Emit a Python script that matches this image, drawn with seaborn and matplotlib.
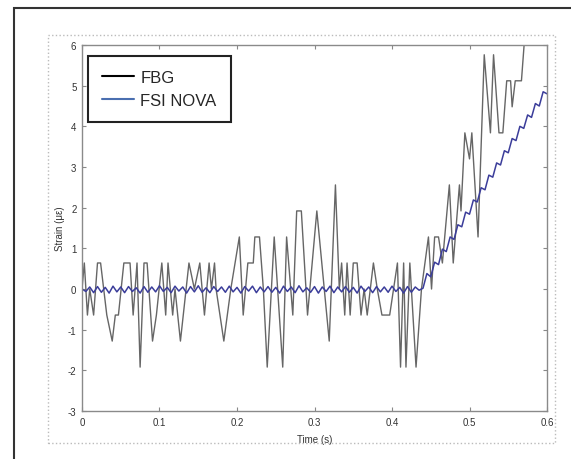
import numpy as np
import matplotlib
matplotlib.use("Agg")
import matplotlib.pyplot as plt
import seaborn as sns
from matplotlib.lines import Line2D
from matplotlib.patches import Rectangle

# FBG strain: vertices (time in s, strain in micro-strain)
fbg_t = [0.000, 0.003, 0.007, 0.010, 0.015, 0.020, 0.024, 0.032, 0.039, 0.043,
         0.047, 0.054, 0.062, 0.066, 0.071, 0.075, 0.080, 0.084, 0.091, 0.096,
         0.103, 0.108, 0.111, 0.117, 0.120, 0.127, 0.138, 0.145, 0.152, 0.158,
         0.164, 0.167, 0.171, 0.173, 0.183, 0.192, 0.203, 0.208, 0.214, 0.221,
         0.223, 0.229, 0.234, 0.239, 0.248, 0.259, 0.264, 0.272, 0.277, 0.283,
         0.291, 0.303, 0.319, 0.327, 0.332, 0.335, 0.339, 0.342, 0.346, 0.350,
         0.355, 0.360, 0.364, 0.368, 0.376, 0.381, 0.387, 0.397, 0.407, 0.411,
         0.415, 0.418, 0.423, 0.431, 0.438, 0.447, 0.451, 0.455, 0.460, 0.465,
         0.474, 0.479, 0.487, 0.489, 0.494, 0.500, 0.503, 0.511, 0.519, 0.527,
         0.531, 0.538, 0.543, 0.548, 0.553, 0.555, 0.559, 0.567, 0.572, 0.600]
fbg_v = [0.00, 0.64, -0.64, 0.00, -0.64, 0.64, 0.64, -0.64, -1.28, -0.64,
         -0.64, 0.64, 0.64, -0.64, 0.64, -1.92, 0.64, 0.64, -1.28, -0.64,
         0.64, -0.64, 0.64, -0.64, 0.00, -1.28, 0.64, 0.00, 0.64, -0.64,
         0.64, 0.00, 0.64, 0.00, -1.28, 0.00, 1.28, -0.64, 0.64, 0.64,
         1.28, 1.28, 0.00, -1.92, 1.28, -1.92, 1.28, -0.64, 1.92, 1.92,
         -0.64, 1.92, -1.28, 2.56, 0.00, 0.64, -0.64, 0.64, -0.64, 0.64,
         0.64, -0.64, 0.00, -0.64, 0.64, 0.00, -0.64, -0.64, 0.64, -1.92,
         0.64, -1.92, 0.64, -1.92, 0.00, 1.28, 0.00, 1.28, 1.28, 0.64,
         2.56, 0.64, 2.56, 1.92, 3.84, 3.20, 3.84, 1.28, 5.76, 3.84,
         5.76, 3.84, 3.84, 5.12, 5.12, 4.48, 5.12, 5.12, 6.40, 7.04]

# FSI NOVA strain, sampled every 5 ms from 0 to 0.6 s
nova_t = np.round(np.arange(121) * 0.005, 3)
nova_v = [0.00, -0.06, 0.05, -0.09, 0.06, -0.08, 0.04, -0.10, 0.07, -0.07, 0.05,
          -0.09, 0.06, -0.06, 0.03, -0.10, 0.06, -0.08, 0.05, -0.07, 0.08, -0.06,
          0.04, -0.09, 0.07, -0.05, 0.05, -0.10, 0.06, -0.07, 0.08, -0.08, 0.03,
          -0.09, 0.06, -0.06, 0.05, -0.08, 0.07, -0.07, 0.04, -0.10, 0.06, -0.05,
          0.07, -0.09, 0.05, -0.07, 0.06, -0.08, 0.04, -0.10, 0.07, -0.06, 0.05,
          -0.09, 0.08, -0.07, 0.03, -0.08, 0.06, -0.10, 0.05, -0.06, 0.07, -0.09,
          0.05, -0.07, 0.06, -0.08, 0.04, -0.10, 0.07, -0.06, 0.05, -0.09, 0.06,
          -0.07, 0.05, -0.08, 0.07, -0.06, 0.04, -0.10, 0.06, -0.08, 0.05, -0.03,
          0.02, 0.38, 0.30, 0.66, 0.60, 0.98, 0.92, 1.28, 1.22, 1.58, 1.53,
          1.89, 1.84, 2.19, 2.14, 2.49, 2.44, 2.80, 2.75, 3.10, 3.05, 3.40,
          3.35, 3.70, 3.65, 4.00, 3.95, 4.28, 4.22, 4.56, 4.50, 4.85, 4.80]

x_ticks = [0, 0.1, 0.2, 0.3, 0.4, 0.5, 0.6]
y_ticks = [-3, -2, -1, 0, 1, 2, 3, 4, 5, 6]

sns.set_style("white")
plt.rcParams['font.family'] = ['Liberation Sans', 'DejaVu Sans']
plt.rcParams['axes.unicode_minus'] = False

fig = plt.figure(figsize=(5.71, 4.6), dpi=100)
ax = fig.add_axes([0.1436, 0.1043, 0.8144, 0.7957])

sns.lineplot(x=fbg_t, y=fbg_v, color='#666666', lw=1.0, estimator=None, ax=ax)
sns.lineplot(x=nova_t, y=nova_v, color='#3b3d9a', lw=1.1, estimator=None, ax=ax)

ax.set_xlim(0, 0.6)
ax.set_ylim(-3, 6)
ax.set_xticks(x_ticks)
ax.set_xticklabels(['0', '0.1', '0.2', '0.3', '0.4', '0.5', '0.6'])
ax.set_yticks(y_ticks)
ax.tick_params(direction='in', length=3, width=0.8, color='#888888',
               labelsize=7, labelcolor='#333333', top=True, right=True,
               bottom=True, left=True, pad=4)
for s in ax.spines.values():
    s.set_color('#8a8a8a')
    s.set_linewidth(1.0)

ax.set_xlabel('Time (s)', fontsize=7, color='#333333', labelpad=5)
ax.set_ylabel('Strain (με)', fontsize=7, color='#333333', labelpad=2)

handles = [Line2D([], [], color='black', lw=1.5),
           Line2D([], [], color='#4a6fb0', lw=1.5)]
leg = ax.legend(handles, ['FBG', 'FSI NOVA'], loc='upper left',
                bbox_to_anchor=(0.0129, 0.970), borderaxespad=0,
                fontsize=12, handlelength=1.9, handletextpad=0.4,
                labelspacing=0.45, borderpad=0.85, fancybox=False,
                framealpha=1)
leg.get_frame().set_edgecolor('#222222')
leg.get_frame().set_linewidth(1.5)

# outer frame and dotted border of the screenshot
fig.add_artist(Rectangle((0.0245, -0.1), 1.2, 1.0804, transform=fig.transFigure,
                         fill=False, edgecolor='#333333', lw=1.5))
fig.add_artist(Rectangle((0.084, 0.0348), 0.888, 0.887, transform=fig.transFigure,
                         fill=False, edgecolor='#bbbbbb', lw=1.0, ls=':'))

fig.savefig('out.png', dpi=100)
